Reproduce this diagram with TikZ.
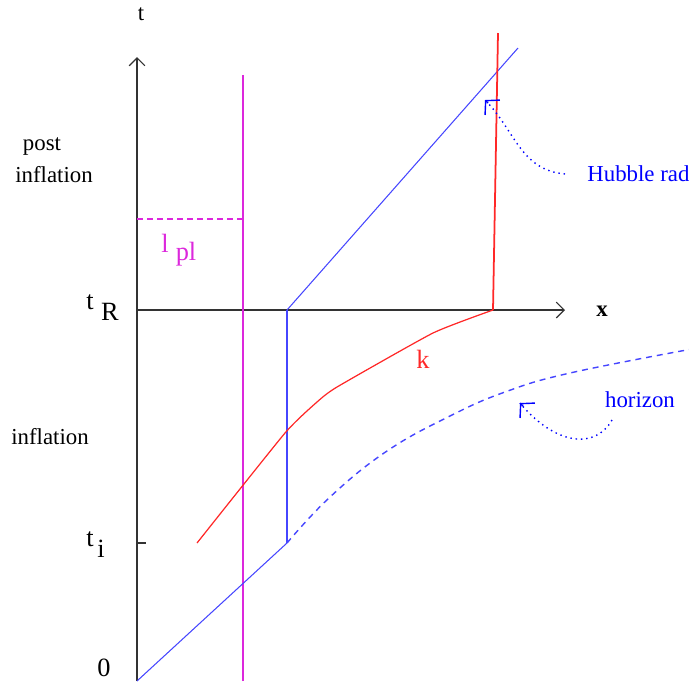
\documentclass[tikz,border=0pt]{standalone}
\usepackage{fontspec}
\setmainfont{Liberation Serif}
\usetikzlibrary{arrows.meta}
\definecolor{hblue}{RGB}{70,70,255}
\definecolor{kred}{RGB}{255,40,40}
\definecolor{plmag}{RGB}{220,40,220}
\begin{document}
\begin{tikzpicture}[x=0.02cm, y=-0.02cm,
  axis/.style={draw=black!80, line width=0.7pt},
  lbl/.style={font=\fontsize{13}{15}\selectfont, inner sep=0pt},
  bigl/.style={font=\fontsize{15}{17}\selectfont, inner sep=0pt},
  hline/.style={draw=hblue, line width=0.6pt},
  kline/.style={draw=kred, line width=0.7pt},
  pline/.style={draw=plmag, line width=0.7pt},
  note/.style={draw=blue, line width=0.8pt, dash pattern=on 0.8pt off 2.2pt},
  notetip/.style={draw=blue, line width=0.8pt, -{Straight Barb[length=5.5pt,width=12pt]}},
  >={Straight Barb[length=4.5pt,width=9pt]}
]
\useasboundingbox (0,0) rectangle (689,681);
\coordinate (o) at (137,681);
\coordinate (ttop) at (137,57);
\coordinate (xstart) at (137,310);
\coordinate (xend) at (565,310);
\coordinate (tick) at (137,543);
\coordinate (tickend) at (146,543);
\coordinate (bi) at (287,543);
\coordinate (bR) at (287,310);
\coordinate (btop) at (518,48);
\coordinate (kstart) at (197,543);
\coordinate (kR) at (493,310);
\coordinate (ktop) at (498,33);
\coordinate (plbot) at (243,681);
\coordinate (pltop) at (243,75);
\coordinate (plleft) at (137,219);
\coordinate (plright) at (243,219);
\coordinate (hubtip) at (485,100);
\coordinate (hzfrom) at (612,420);
\coordinate (hztip) at (520,403);
\coordinate (hubfrom) at (565,174);

\node[lbl] (tlab) at (141,14) {t};
\node[lbl] (xlab) at (602,311) {\textbf{x}};
\node[bigl] (tR) at (90,302) {t};
\node[bigl] (tRsub) at (110,312) {R};
\node[bigl] (ti) at (90,539) {t};
\node[bigl] (tisub) at (101,549) {i};
\node[bigl] (zero) at (104,668) {0};
\node[lbl] (post) at (42,146) {post};
\node[lbl] (postinf) at (54,175) {inflation};
\node[lbl] (inf) at (50,437) {inflation};
\node[bigl, text=plmag] (lpl) at (165,243) {l};
\node[bigl, text=plmag] (lplsub) at (186,254) {pl};
\node[bigl, text=kred] (k) at (423,359) {k};
\node[lbl, text=blue, anchor=west] (hubble) at (587,174) {Hubble rad};
\node[lbl, text=blue] (horizon) at (640,400) {horizon};

\draw[axis, ->] (o) -- (ttop);
\draw[axis, ->] (xstart) -- (xend);
\draw[axis] (tick) -- (tickend);
\draw[pline] (plbot) -- (pltop);
\draw[pline, dash pattern=on 3.5pt off 2.2pt] (plleft) -- (plright);
\draw[hline] (o) -- (bi);
\draw[hline, line width=1pt] (bi) -- (bR);
\draw[hline] (bR) -- (btop);
\draw[hline, line width=0.8pt, dash pattern=on 3.4pt off 2.8pt] plot[smooth, tension=0.7] coordinates {(287,543) (330,497) (387,451) (450,416) (505,392) (570,373) (692,349)};
\draw[kline] plot[smooth, tension=0.3] coordinates {(197,543) (285,433) (317,402) (337,387) (433,333) (493,310)};
\draw[kline, line width=1pt] (kR) -- (ktop);
\draw[note] (hubfrom) .. controls (520,170) and (515,130) .. (hubtip);
\draw[notetip] (hubtip) ++(3,3) -- (hubtip);
\draw[note] (hzfrom) .. controls (595,450) and (555,445) .. (hztip);
\draw[notetip] (hztip) ++(3,3) -- (hztip);
\end{tikzpicture}
\end{document}
